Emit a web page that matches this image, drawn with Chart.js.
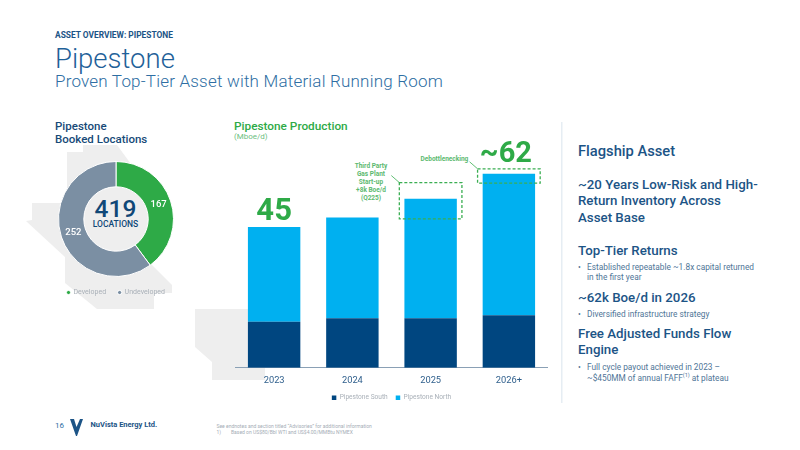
<!DOCTYPE html>
<html>
<head>
<meta charset="utf-8">
<script src="https://cdn.jsdelivr.net/npm/chart.js@4"></script>
<style>
    html, body { margin: 0; padding: 0; background: #fff; }
    #slide { position: relative; width: 800px; height: 450px; overflow: hidden; font-family: Roboto, sans-serif; color: #0f4c81; background: #fff; }
    #slide canvas { position: absolute; }
    .t { position: absolute; white-space: nowrap; }
    .head { color: #1c5486; font-weight: 500; font-size: 13.3px; line-height: 16.4px; left: 578px; }
    .bullet { color: #4f7597; font-size: 8.3px; line-height: 10.6px; left: 587px; }
    .bullet:before { content: "\2022"; position: absolute; left: -9px; }
    sup { font-size: 5.5px; line-height: 0; }
</style>
</head>
<body>
<div id="slide">
    <svg style="position:absolute;left:0;top:0" width="800" height="450">
        <polygon fill="#eeeeee" points="83,145 117,145 150,190 150,263 172,285 172,293 154,293 154,309 97,309 65,283 65,257 26,221 32,220 32,203 67,203 67,152 83,152"/>
        <polygon fill="#eeeeee" points="195,309 265,309 265,380 212,380 212,362 195,347"/>
        <rect x="561" y="122" width="1.5" height="281" fill="#e6edf3"/>
    </svg>

    <div class="t" style="left:55px;top:30px;font-size:8.4px;font-weight:700;color:#1c5486">ASSET OVERVIEW: PIPESTONE</div>
    <div class="t" style="left:55px;top:41.5px;font-size:27.5px;font-weight:300;color:#1f6199">Pipestone</div>
    <div class="t" style="left:55px;top:71px;font-size:17px;font-weight:300;color:#2e6ea3;letter-spacing:.2px">Proven Top-Tier Asset with Material Running Room</div>

    <div class="t" style="left:55px;top:120px;font-size:11.5px;line-height:13px;font-weight:500;color:#174a78">Pipestone<br>Booked Locations</div>
    <div class="t" style="left:234px;top:119px;font-size:11.8px;font-weight:500;color:#2eaa47">Pipestone Production</div>
    <div class="t" style="left:234px;top:132px;font-size:8px;color:#6cc07f">(Mboe/d)</div>

    <div class="t" style="left:60.5px;width:110px;top:194px;text-align:center;font-size:24.5px;color:#0f4777;font-weight:500">419</div>
    <div class="t" style="left:60.5px;width:110px;top:219px;text-align:center;font-size:8.5px;font-weight:500;color:#0f4777">LOCATIONS</div>

    <div class="t" style="left:342px;width:58px;top:161.5px;text-align:center;font-size:6.5px;line-height:8px;font-weight:700;color:#5cb96f">Third Party<br>Gas Plant<br>Start-up<br>+8k Boe/d<br>(Q225)</div>
    <div class="t" style="left:420.5px;top:155px;font-size:6.5px;font-weight:700;color:#5cb96f">Debottlenecking</div>

    <div class="t head" style="top:143px;font-size:14.7px">Flagship Asset</div>
    <div class="t head" style="top:177px">~20 Years Low-Risk and High-<br>Return Inventory Across<br>Asset Base</div>
    <div class="t head" style="top:243px">Top-Tier Returns</div>
    <div class="t bullet" style="top:261.5px">Established repeatable ~1.8x capital returned<br>in the first year</div>
    <div class="t head" style="top:290px">~62k Boe/d in 2026</div>
    <div class="t bullet" style="top:309px">Diversified infrastructure strategy</div>
    <div class="t head" style="top:326px">Free Adjusted Funds Flow<br>Engine</div>
    <div class="t bullet" style="top:362px">Full cycle payout achieved in 2023 &#8211;<br>~$450MM of annual FAFF<sup>(1)</sup> at plateau</div>

    <div class="t" style="left:55px;top:421px;font-size:8px;color:#2e6ea3">16</div>
    <svg style="position:absolute;left:69px;top:418px" width="15" height="19"><polygon fill="#1c5486" points="1,1 5,1 7.5,9 11,1 14,1 8,18 7,18"/></svg>
    <div class="t" style="left:90.5px;top:420px;font-size:7.5px;font-weight:700;color:#1c5486">NuVista Energy Ltd.</div>
    <div class="t" style="left:216.5px;top:423px;font-size:5px;line-height:6px;color:#a5adb6">See endnotes and section titled &#8220;Advisories&#8221; for additional information<br>1)&nbsp;&nbsp;&nbsp;&nbsp;&nbsp;&nbsp;&nbsp;&nbsp;Based on US$80/Bbl WTI and US$4.00/MMBtu NYMEX</div>

    <canvas id="locationsChart" width="150" height="166" style="left:40.5px;top:140px"></canvas>
    <canvas id="productionChart" width="313" height="281" style="left:235px;top:130px"></canvas>
</div>

<script>
// booked locations
const locationLabels = ['Developed', 'Undeveloped'];
const locationValues = [167, 252];

// production, Mboe/d
const years = ['2023', '2024', '2025', '2026+'];
const southValues = [14.7, 15.8, 15.8, 16.8];
const northValues = [30.3, 32.2, 38.2, 45.2];
const totalLabels = ['45', '', '', '~62'];

// dashed callout boxes: category, low, high (Mboe/d)
const calloutYears = ['2025', '2026+'];
const calloutLows = [47.6, 59];
const calloutHighs = [59.2, 63.6];

const green = '#2eaa47';
const navy = '#004680';
const sky = '#00b0f0';

Chart.defaults.font.family = 'Roboto, sans-serif';
Chart.defaults.devicePixelRatio = 1;

const sliceLabels = {
    id: 'sliceLabels',
    afterDatasetsDraw(chart) {
        const ctx = chart.ctx;
        ctx.save();
        ctx.fillStyle = '#fff';
        ctx.font = '500 9.5px Roboto';
        ctx.textAlign = 'center';
        ctx.textBaseline = 'middle';
        chart.getDatasetMeta(0).data.forEach((arc, i) => {
            const p = arc.tooltipPosition();
            ctx.fillText(locationValues[i], p.x, p.y);
        });
        ctx.restore();
    }
};

new Chart(document.getElementById('locationsChart'), {
    type: 'doughnut',
    data: {
        labels: locationLabels,
        datasets: [{
            data: locationValues,
            backgroundColor: [green, '#7b8fa3'],
            borderColor: '#fff',
            borderWidth: 1
        }]
    },
    options: {
        responsive: false,
        animation: false,
        cutout: '56%',
        layout: { padding: { top: 21, bottom: 0 } },
        plugins: {
            tooltip: { enabled: false },
            legend: {
                position: 'bottom',
                labels: {
                    usePointStyle: true,
                    pointStyle: 'circle',
                    boxWidth: 3,
                    boxHeight: 3,
                    padding: 12,
                    color: '#a9b0b8',
                    font: { size: 7 }
                }
            }
        }
    },
    plugins: [sliceLabels]
});

const productionNotes = {
    id: 'productionNotes',
    afterDatasetsDraw(chart) {
        const ctx = chart.ctx;
        const x = chart.scales.x;
        const y = chart.scales.y;
        ctx.save();

        // big totals over the bars
        ctx.fillStyle = green;
        ctx.textAlign = 'center';
        ctx.textBaseline = 'alphabetic';
        totalLabels.forEach((label, i) => {
            if (!label) return;
            const total = southValues[i] + northValues[i];
            ctx.font = i === 0 ? '700 31px Roboto' : '700 29px Roboto';
            ctx.fillText(label, x.getPixelForValue(i) - (i === 0 ? 0 : 3), y.getPixelForValue(total) - (i === 0 ? 7 : 12));
        });

        // dashed boxes
        ctx.strokeStyle = '#3aae52';
        ctx.lineWidth = 1.3;
        ctx.setLineDash([3, 2]);
        const halfWidth = x.width / years.length * 0.4;
        calloutYears.forEach((year, i) => {
            const cx = x.getPixelForValue(years.indexOf(year));
            const top = y.getPixelForValue(calloutHighs[i]);
            const bottom = y.getPixelForValue(calloutLows[i]);
            ctx.strokeRect(cx - halfWidth, top, halfWidth * 2, bottom - top);
        });

        // leader lines from the labels to the box corners
        ctx.setLineDash([]);
        ctx.lineWidth = 0.8;
        calloutYears.forEach((year, i) => {
            const cx = x.getPixelForValue(years.indexOf(year));
            const top = y.getPixelForValue(calloutHighs[i]);
            ctx.beginPath();
            ctx.moveTo(cx - halfWidth - 8, top - 7);
            ctx.lineTo(cx - halfWidth, top);
            ctx.stroke();
        });
        ctx.restore();
    }
};

new Chart(document.getElementById('productionChart'), {
    type: 'bar',
    data: {
        labels: years,
        datasets: [
            { label: 'Pipestone South', data: southValues, backgroundColor: navy },
            { label: 'Pipestone North', data: northValues, backgroundColor: sky }
        ]
    },
    options: {
        responsive: false,
        animation: false,
        categoryPercentage: 0.67,
        barPercentage: 1,
        layout: { padding: 0 },
        scales: {
            x: {
                stacked: true,
                grid: { display: false, drawTicks: false },
                border: { color: '#8aa0b5', width: 1 },
                ticks: { color: '#2f5f8c', font: { size: 9.3 }, padding: 7 },
                // legend sits closer to the axis than the default layout allows
                afterFit(scale) { scale.height -= 6.5; }
            },
            y: {
                stacked: true,
                display: false,
                min: 0,
                max: 76
            }
        },
        plugins: {
            tooltip: { enabled: false },
            legend: {
                position: 'bottom',
                labels: {
                    boxWidth: 4.5,
                    boxHeight: 4.5,
                    padding: 8,
                    color: '#a9b0b8',
                    font: { size: 6.6 }
                }
            }
        }
    },
    plugins: [productionNotes]
});
</script>
</body>
</html>
